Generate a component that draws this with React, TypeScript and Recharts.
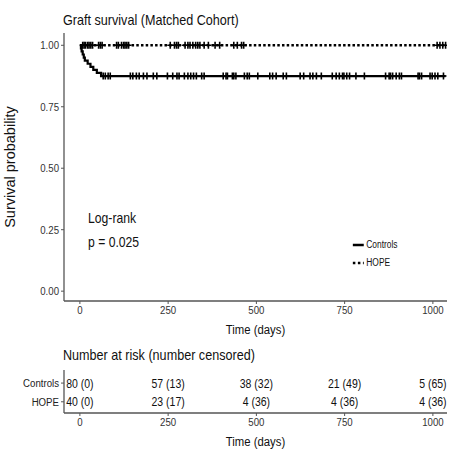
import React from 'react';
import { ComposedChart, Line, Scatter, XAxis, YAxis, Legend } from 'recharts';

// Kaplan-Meier steps (days, survival)
const controlsStepTimes = [0, 3, 5, 8, 11, 14, 22, 30, 38, 48, 60, 1036];
const controlsStepSurv = [1, 0.9875, 0.975, 0.9625, 0.95, 0.9375, 0.925, 0.9125, 0.9, 0.8875, 0.875, 0.875];
const hopeStepTimes = [0, 1036];
const hopeStepSurv = [1, 1];

// censoring times (days)
const controlsCensorTimes = [
  66, 72, 80, 86, 143, 150, 160, 168, 180, 190, 208, 218, 248,
  263, 275, 281, 296, 306, 314, 322, 330, 345, 352, 406, 414, 418, 432, 436, 442, 466, 474, 480,
  504, 538, 546, 556, 576, 585, 624, 634, 652, 660, 670, 684, 715, 726, 735, 744, 748,
  756, 764, 782, 806, 866, 876, 880, 886, 896, 905, 911, 958, 962, 968, 992, 998,
  1006, 1014, 1030,
];
const hopeCensorTimes = [
  8, 12, 16, 22, 26, 31, 36, 53, 58, 63, 104, 109, 118, 124, 128, 133, 138,
  256, 268, 274, 279, 298, 306, 312, 320, 328, 334, 340, 352, 364, 383, 396, 436, 446, 458, 464,
  1012, 1020, 1028, 1036,
];

const seriesNames = ['Controls', 'HOPE'];
const xTicks = [0, 250, 500, 750, 1000];
const yTicks = [0, 0.25, 0.5, 0.75, 1];

// risk table
const riskTimes = [0, 250, 500, 750, 1000];
const controlsAtRisk = [80, 57, 38, 21, 5];
const controlsCensored = [0, 13, 32, 49, 65];
const hopeAtRisk = [40, 23, 4, 4, 4];
const hopeCensored = [0, 17, 36, 36, 36];

const font = "'Liberation Sans', Arial, sans-serif";
const SQUEEZE = 0.84; // the original text looks horizontally condensed
const axisColor = '#555';

const toCurve = (times: number[], surv: number[]) => times.map((t, i) => ({ t, s: surv[i] }));
const survAt = (times: number[], surv: number[], t: number) => {
  let s = surv[0];
  times.forEach((tt, i) => { if (tt <= t) s = surv[i]; });
  return s;
};

const controlsCurve = toCurve(controlsStepTimes, controlsStepSurv);
const hopeCurve = toCurve(hopeStepTimes, hopeStepSurv);
const controlsCensors = controlsCensorTimes.map(t => ({ t, s: survAt(controlsStepTimes, controlsStepSurv, t) }));
const hopeCensors = hopeCensorTimes.map(t => ({ t, s: survAt(hopeStepTimes, hopeStepSurv, t) }));

const controlsRisk = riskTimes.map((t, i) => ({ t, row: 2, label: `${controlsAtRisk[i]} (${controlsCensored[i]})` }));
const hopeRisk = riskTimes.map((t, i) => ({ t, row: 1, label: `${hopeAtRisk[i]} (${hopeCensored[i]})` }));

function NarrowText({ x, y, anchor, dy, size, fill = '#111', children }: any) {
  return (
    <g transform={`translate(${x},${y}) scale(${SQUEEZE},1)`}>
      <text x={0} y={0} dy={dy} textAnchor={anchor} fontSize={size} fontFamily={font} fill={fill}>
        {children}
      </text>
    </g>
  );
}

function XTick(props: any) {
  const { x, y, payload } = props;
  return <NarrowText x={x} y={y} anchor="middle" dy="0.71em" size={11.5} fill="#333">{payload.value}</NarrowText>;
}

function YTickNum(props: any) {
  const { x, y, payload } = props;
  return <NarrowText x={x} y={y} anchor="end" dy="0.355em" size={11.5} fill="#333">{Number(payload.value).toFixed(2)}</NarrowText>;
}

function YTickRow(props: any) {
  const { x, y, payload } = props;
  return (
    <NarrowText x={x} y={y} anchor="end" dy="0.355em" size={11.5} fill="#222">
      {payload.value === 2 ? seriesNames[0] : seriesNames[1]}
    </NarrowText>
  );
}

function XLabel(props: any) {
  const { viewBox, offset } = props;
  const { x, y, width, height } = viewBox;
  return <NarrowText x={x + width / 2} y={y + height - offset} anchor="middle" size={13.5}>Time (days)</NarrowText>;
}

function CensorMark(props: any) {
  const { cx, cy } = props;
  if (cx == null || cy == null) return null;
  return <path d={`M${cx - 3},${cy}H${cx + 3}M${cx},${cy - 3.5}V${cy + 3.5}`} stroke="#000" strokeWidth={1.6} fill="none" />;
}

function RiskText(props: any) {
  const { cx, cy, payload } = props;
  return <NarrowText x={cx} y={cy} anchor="middle" dy="0.355em" size={12.5}>{payload.label}</NarrowText>;
}

function LegendBox() {
  return (
    <div style={{ fontFamily: font, fontSize: 10, color: '#111', lineHeight: '18px', transform: `scaleX(${SQUEEZE})`, transformOrigin: 'left' }}>
      {seriesNames.map((name, i) => (
        <div key={name} style={{ display: 'flex', alignItems: 'center' }}>
          <svg width={15} height={6} style={{ marginRight: 2 }}>
            <line x1={1} y1={3} x2={14} y2={3} stroke="#000" strokeWidth={2.4} strokeDasharray={i === 1 ? '3 3' : undefined} />
          </svg>
          {name}
        </div>
      ))}
    </div>
  );
}

const htmlText = (size: number): React.CSSProperties => ({
  position: 'absolute',
  fontFamily: font,
  fontSize: size,
  color: '#111',
  lineHeight: '18px',
  whiteSpace: 'nowrap',
  transform: `scaleX(${SQUEEZE})`,
  transformOrigin: 'left',
});

export default function App() {
  return (
    <div style={{ position: 'absolute', left: 0, top: 0, width: 449, height: 450, background: '#fff' }}>
      <div style={{ ...htmlText(15), left: 63, top: 11 }}>Graft survival (Matched Cohort)</div>

      <ComposedChart width={449} height={340} margin={{ top: 33, right: 2, bottom: 0, left: 0 }}>
        <XAxis
          type="number"
          dataKey="t"
          domain={[-45, 1040]}
          ticks={xTicks}
          interval={0}
          allowDataOverflow
          height={39}
          tickSize={3}
          tickMargin={2}
          tick={XTick}
          axisLine={{ stroke: axisColor, strokeWidth: 1.3 }}
          tickLine={{ stroke: axisColor }}
          label={{ position: 'insideBottom', offset: 6, content: XLabel }}
        />
        <YAxis
          type="number"
          dataKey="s"
          domain={[-0.04, 1.05]}
          ticks={yTicks}
          interval={0}
          allowDataOverflow
          width={64}
          tickSize={3}
          tickMargin={2}
          tick={YTickNum}
          axisLine={{ stroke: axisColor, strokeWidth: 1.3 }}
          tickLine={{ stroke: axisColor }}
          label={{ value: 'Survival probability', angle: -90, position: 'insideLeft', offset: 10, style: { textAnchor: 'middle', fontSize: 14.5, fontFamily: font, fill: '#111' } }}
        />
        <Line data={controlsCurve} dataKey="s" type="stepAfter" stroke="#000" strokeWidth={2.2} dot={false} isAnimationActive={false} name="Controls" />
        <Line data={hopeCurve} dataKey="s" type="stepAfter" stroke="#000" strokeWidth={2.4} strokeDasharray="2.5 2.2" dot={false} isAnimationActive={false} name="HOPE" />
        <Scatter data={controlsCensors} shape={CensorMark} isAnimationActive={false} legendType="none" />
        <Scatter data={hopeCensors} shape={CensorMark} isAnimationActive={false} legendType="none" />
        <Legend
          layout="vertical"
          align="center"
          verticalAlign="middle"
          content={() => <LegendBox />}
          wrapperStyle={{ left: 352, top: 236, width: 70, height: 40 }}
        />
      </ComposedChart>

      <div style={{ ...htmlText(14.5), left: 88, top: 209 }}>Log-rank</div>
      <div style={{ ...htmlText(14.5), left: 88, top: 233 }}>p = 0.025</div>

      <div style={{ ...htmlText(15), left: 63, top: 346 }}>Number at risk (number censored)</div>

      <div style={{ position: 'absolute', left: 0, top: 340 }}>
        <ComposedChart width={449} height={110} margin={{ top: 30, right: 2, bottom: 0, left: 0 }}>
          <XAxis
            type="number"
            dataKey="t"
            domain={[-45, 1040]}
            ticks={xTicks}
            interval={0}
            allowDataOverflow
            height={37}
            tickSize={3}
            tickMargin={2}
            tick={XTick}
            axisLine={{ stroke: axisColor, strokeWidth: 1.3 }}
            tickLine={{ stroke: axisColor }}
            label={{ position: 'insideBottom', offset: 4, content: XLabel }}
          />
          <YAxis
            type="number"
            dataKey="row"
            domain={[0.4, 2.7]}
            ticks={[1, 2]}
            interval={0}
            width={64}
            tickSize={3}
            tickMargin={2}
            tick={YTickRow}
            axisLine={{ stroke: axisColor, strokeWidth: 1.3 }}
            tickLine={{ stroke: axisColor }}
          />
          <Scatter data={controlsRisk} shape={RiskText} isAnimationActive={false} />
          <Scatter data={hopeRisk} shape={RiskText} isAnimationActive={false} />
        </ComposedChart>
      </div>
    </div>
  );
}
